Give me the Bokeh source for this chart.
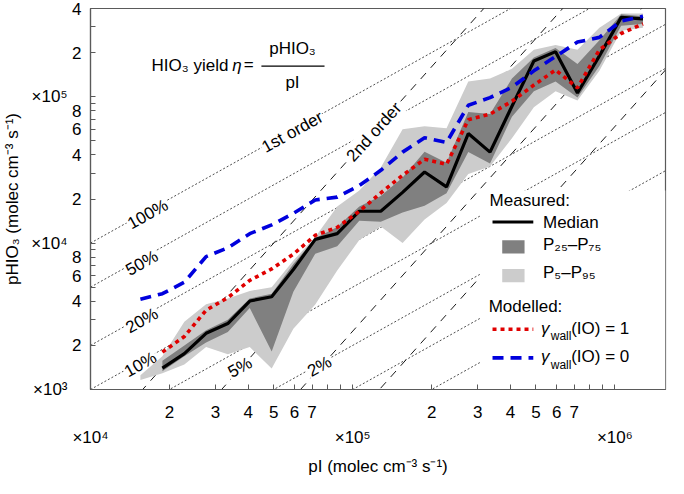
import math
import numpy as np
from bokeh.plotting import figure
from bokeh.models import LogAxis, FixedTicker, CustomJSTickFormatter
from bokeh.core.properties import value
from bokeh.embed import file_html
from bokeh.resources import INLINE

# ---------------- data ----------------
pI = [1.55e4, 1.88e4, 2.28e4, 2.76e4, 3.34e4, 4.05e4, 4.91e4, 5.94e4, 7.20e4, 8.73e4,
      1.06e5, 1.28e5, 1.55e5, 1.88e5, 2.28e5, 2.76e5, 3.34e5, 4.05e5, 4.91e5, 5.94e5,
      7.20e5, 8.73e5, 1.057e6, 1.28e6]
median = [None, 1400, 1760, 2420, 2820, 4020, 4300, 6600, 10600, 11600,
          16500, 16500, 22200, 30600, 24200, 56000, 41800, 86000, 175000, 203000,
          106000, 190000, 348000, 340000]
p5 = [1160, 1290, 1480, 1950, 1740, 1950, 1390, 2600, 3800, 6500,
      10500, 13000, 10000, 14500, 18800, 29600, 33400, 52000, 84700, 109000,
      94100, 150000, 282000, 295000]
p25 = [None, 1330, 1690, 2090, 2470, 3600, 1820, 4650, 8470, 9500,
       14200, 14000, 16200, 18000, 21900, 41800, 35000, 73000, 109000, 127000,
       98500, 162000, 305000, 314000]
p75 = [None, 1570, 2000, 2540, 3000, 4180, 4510, 7200, 10800, 12900,
       17800, 21000, 28000, 42000, 35400, 78500, 76200, 133000, 185000, 215000,
       167000, 243000, 365000, 354000]
p95 = [1250, 1690, 2900, 3820, 4180, 4710, 5000, 7600, 11000, 17800,
       22900, 32800, 60000, 62700, 60800, 127000, 133000, 155000, 209000, 225000,
       209000, 295000, 370000, 370000]
model_wall1 = [None, 1800, 2300, 3480, 4240, 5560, 6660, 8400, 11300, 12800,
               16500, 22000, 29000, 37400, 34500, 69500, 76000, 93000, 120000, 152000,
               115000, 209000, 270000, 314000]
model_wall0 = [4130, 4510, 5400, 8090, 9270, 11600, 13300, 15950, 19700, 20600,
               24700, 31400, 41800, 52400, 48600, 87300, 98500, 116000, 150000, 188000,
               236000, 254000, 328000, 354000]

# reference lines: constant yield (1st order) and 2nd-order lines pHIO3 = c * pI^2
eta_values = [1.0, 0.5, 0.2, 0.1, 0.05, 0.02, 0.01, 0.005, 0.002, 0.001]
eta_labels = ["100%", "50%", "20%", "10%", "5%", "2%"]
second_order_c = [4e-6, 1e-6, 2.5e-7, 6.25e-8]

x_tick_labels = ["2", "3", "4", "5", "6", "7"]
y_tick_labels = ["2", "4", "6", "8"]
x_exp_ticks = [1e4, 1e5, 1e6]
x_exp_labels = ["×10⁴", "×10⁵", "×10⁶"]
y_exp_ticks = [1e3, 1e4, 1e5]
y_exp_labels = ["×10³", "×10⁴", "×10⁵"]

# ---------------- layout / style ----------------
W, H = 668, 478
ML, MR, MT, MB = 84, 3, 8, 86
X0, X1 = 1e4, 1.56e6
Y0, Y1 = 1e3, 4e5
FW, FH = W - ML - MR, H - MT - MB
PXX = FW / math.log10(X1 / X0)
PXY = FH / math.log10(Y1 / Y0)
TH1 = math.atan(PXY / PXX)
TH2 = math.atan(2 * PXY / PXX)
FONT = "Liberation Sans"
FS = "17px"
AX = "#5a5a5a"
DARK, LIGHT = "#808080", "#cccccc"
RED, BLUE = "#e00000", "#0000dd"


def rx(X):  # horizontal position in the reference picture -> data
    return 10 ** (5 + (X - 359) / 270)


def ry(Y):  # vertical position in the reference picture -> data
    return 10 ** (5 - (Y - 99) / 153)


p = figure(width=W, height=H, x_axis_type="log", y_axis_type="log",
           x_range=(X0, X1), y_range=(Y0, Y1),
           output_backend="svg", toolbar_location=None,
           min_border_left=ML, min_border_right=MR,
           min_border_top=MT, min_border_bottom=MB)
p.grid.visible = False
p.outline_line_color = AX
p.outline_line_width = 1.2
p.background_fill_color = "white"
p.border_fill_color = "white"

inner_code = """
const e = Math.floor(Math.log10(tick) + 1e-9);
const m = Math.round(tick / Math.pow(10, e));
const s = String(m);
return labels.includes(s) ? s : "";
"""
exp_code = """
for (let i = 0; i < t.length; i++) {
  if (Math.abs(Math.log10(t[i] / tick)) < 1e-6) return l[i];
}
return "";
"""

x_ticks = [m * 10 ** e for e in (4, 5) for m in range(1, 10)] + [1e6]
y_ticks = [m * 10 ** e for e in (3, 4) for m in range(1, 10)] + [1e5, 2e5, 3e5, 4e5]

for ax, ticks, labs in ((p.xaxis[0], x_ticks, x_tick_labels), (p.yaxis[0], y_ticks, y_tick_labels)):
    ax.ticker = FixedTicker(ticks=ticks)
    ax.formatter = CustomJSTickFormatter(args=dict(labels=labs), code=inner_code)
    ax.major_tick_in = 5
    ax.major_tick_out = 0
    ax.minor_tick_line_color = None
    ax.axis_line_color = AX
    ax.axis_line_width = 1.2
    ax.major_tick_line_color = AX
    ax.major_label_text_font = FONT
    ax.major_label_text_font_size = FS
    ax.major_label_text_color = "black"
p.xaxis[0].major_label_standoff = 16
p.yaxis[0].major_label_standoff = 9

xa2 = LogAxis(ticker=FixedTicker(ticks=x_exp_ticks),
              formatter=CustomJSTickFormatter(args=dict(t=x_exp_ticks, l=x_exp_labels), code=exp_code),
              axis_label="pI (molec cm⁻³ s⁻¹)")
ya2 = LogAxis(ticker=FixedTicker(ticks=y_exp_ticks),
              formatter=CustomJSTickFormatter(args=dict(t=y_exp_ticks, l=y_exp_labels), code=exp_code),
              axis_label="pHIO₃ (molec cm⁻³ s⁻¹)")
for ax in (xa2, ya2):
    ax.axis_line_color = None
    ax.major_tick_line_color = None
    ax.minor_tick_line_color = None
    ax.major_tick_in = 0
    ax.major_tick_out = 0
    ax.major_label_standoff = 2
    ax.major_label_text_font = FONT
    ax.major_label_text_font_size = FS
    ax.major_label_text_color = "black"
    ax.axis_label_text_font = FONT
    ax.axis_label_text_font_size = FS
    ax.axis_label_text_font_style = "normal"
    ax.axis_label_text_color = "black"
    ax.axis_label_standoff = 6
xa2.major_label_standoff = 7
xa2.axis_label_standoff = 7
p.add_layout(xa2, "below")
p.add_layout(ya2, "left")

# ---------------- reference lines ----------------
xl = [X0, X1]
for eta in eta_values:
    p.line(xl, [eta * x for x in xl], line_color="#4d4d4d", line_dash="2 2", line_width=1)
for c in second_order_c:
    p.line(xl, [c * x * x for x in xl], line_color="#1a1a1a", line_dash="8 7", line_width=1)

txt = dict(text_font=value(FONT), text_font_size=FS, text_color="black",
           text_align="center", text_baseline="middle",
           background_fill_color="white", padding=1)
eta_pos = [(148, 222), (142, 273), (142, 333), (140.5, 379), (243, 382), (325, 381)]
p.text(x=[rx(a) for a, b in eta_pos], y=[ry(b) for a, b in eta_pos], text=eta_labels,
       angle=TH1, **txt)
p.text(x=[rx(297)], y=[ry(136)], text=["1st order"], angle=TH1, **txt)
p.text(x=[rx(381)], y=[ry(136)], text=["2nd order"], angle=TH2, **txt)

# legend background
p.quad(left=rx(490), right=X1, top=ry(197), bottom=Y0, fill_color="white", line_color=None)


# ---------------- data ----------------
def sel(xs, *cols):
    keep = [i for i in range(len(xs)) if all(c[i] is not None for c in cols)]
    return [xs[i] for i in keep], [[c[i] for i in keep] for c in cols]


xx, (lo, hi) = sel(pI, p5, p95)
p.varea(x=xx, y1=lo, y2=hi, fill_color=LIGHT)
xx, (lo, hi) = sel(pI, p25, p75)
p.varea(x=xx, y1=lo, y2=hi, fill_color=DARK)
xx, (yy,) = sel(pI, median)
p.line(xx, yy, line_color="black", line_width=3.2)
xx, (yy,) = sel(pI, model_wall1)
p.line(xx, yy, line_color=RED, line_width=3.6, line_dash="4 4")
xx, (yy,) = sel(pI, model_wall0)
p.line(xx, yy, line_color=BLUE, line_width=3.6, line_dash="11 7")

# ---------------- legend ----------------
lt = dict(text_font=value(FONT), text_font_size=FS, text_color="black",
          text_align="left", text_baseline="middle")
p.text(x=[rx(500), rx(555), rx(555), rx(555), rx(499)],
       y=[ry(208), ry(230), ry(254), ry(283), ry(318)],
       text=["Measured:", "Median", "P₂₅–P₇₅", "P₅–P₉₅", "Modelled:"], **lt)
p.line([rx(503), rx(545)], [ry(230)] * 2, line_color="black", line_width=3.2)
p.quad(left=rx(513), right=rx(536), top=ry(249), bottom=ry(263), fill_color=DARK, line_color=None)
p.quad(left=rx(513), right=rx(536), top=ry(279), bottom=ry(293), fill_color=LIGHT, line_color=None)
p.line([rx(503), rx(545)], [ry(342)] * 2, line_color=RED, line_width=3.6, line_dash="4 4")
p.line([rx(503), rx(545)], [ry(372)] * 2, line_color=BLUE, line_width=3.6, line_dash="11 7")
for yc, val in ((341, "1"), (371, "0")):
    p.text(x=[rx(553)], y=[ry(yc)], text=["γ"], text_font_style="italic", **lt)
    p.text(x=[rx(563)], y=[ry(yc + 8)], text=["wall"], text_font=value(FONT),
           text_font_size="12px", text_align="left", text_baseline="middle")
    p.text(x=[rx(584)], y=[ry(yc)], text=["(IO) = " + val], **lt)

# ---------------- formula ----------------
p.text(x=[rx(231)], y=[ry(66)], text=["HIO₃ yield"], text_font=value(FONT), text_font_size=FS,
       text_align="right", text_baseline="middle")
p.text(x=[rx(235)], y=[ry(66)], text=["η"], text_font=value(FONT), text_font_size=FS,
       text_font_style="italic", text_align="left", text_baseline="middle")
p.text(x=[rx(252)], y=[ry(65)], text=["="], text_font=value(FONT), text_font_size=FS,
       text_align="center", text_baseline="middle")
p.text(x=[rx(297), rx(297)], y=[ry(49), ry(84)], text=["pHIO₃", "pI"], text_font=value(FONT),
       text_font_size=FS, text_align="center", text_baseline="middle")
p.segment(x0=[rx(265)], y0=[ry(67)], x1=[rx(330)], y1=[ry(67)], line_color="black", line_width=1.2)

open("out.html", "w").write(file_html(p, INLINE))
